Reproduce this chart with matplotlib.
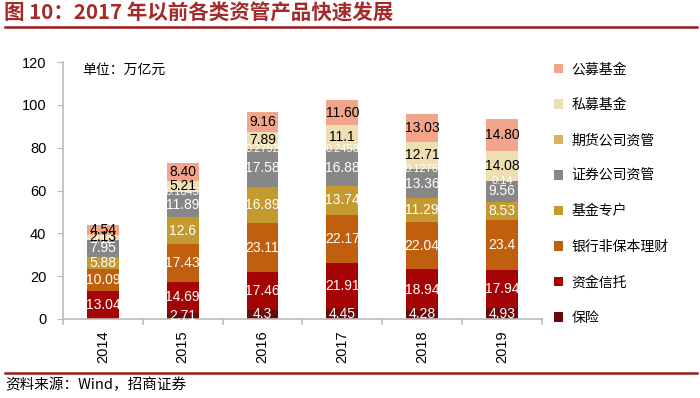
import matplotlib
matplotlib.use("Agg")
import matplotlib.pyplot as plt
from matplotlib.patches import Patch
from matplotlib.lines import Line2D
import numpy as np

plt.rcParams['font.family'] = ['Liberation Sans', 'Noto Sans CJK SC', 'DejaVu Sans']

years = ['2014', '2015', '2016', '2017', '2018', '2019']
# bottom to top
series_names = ['保险', '资金信托', '银行非保本理财', '基金专户', '证券公司资管', '期货公司资管', '私募基金', '公募基金']
baoxian   = [0.0, 2.71, 4.3, 4.45, 4.28, 4.93]
xintuo    = [13.04, 14.69, 17.46, 21.91, 18.94, 17.94]
licai     = [10.09, 17.43, 23.11, 22.17, 22.04, 23.4]
zhuanhu   = [5.88, 12.6, 16.89, 13.74, 11.29, 8.53]
quanshang = [7.95, 11.89, 17.58, 16.88, 13.36, 9.56]
qihuo     = [0.12, 0.1045, 0.2792, 0.2458, 0.1276, 0.14]
simu      = [2.13, 5.21, 7.89, 11.1, 12.71, 14.08]
gongmu    = [4.54, 8.40, 9.16, 11.60, 13.03, 14.80]

label_text = {
    '保险': ['', '2.71', '4.3', '4.45', '4.28', '4.93'],
    '资金信托': ['13.04', '14.69', '17.46', '21.91', '18.94', '17.94'],
    '银行非保本理财': ['10.09', '17.43', '23.11', '22.17', '22.04', '23.4'],
    '基金专户': ['5.88', '12.6', '16.89', '13.74', '11.29', '8.53'],
    '证券公司资管': ['7.95', '11.89', '17.58', '16.88', '13.36', '9.56'],
    '期货公司资管': ['0.12', '0.1045', '0.2792', '0.2458', '0.1276', '0.14'],
    '私募基金': ['2.13', '5.21', '7.89', '11.1', '12.71', '14.08'],
    '公募基金': ['4.54', '8.40', '9.16', '11.60', '13.03', '14.80'],
}

data = [baoxian, xintuo, licai, zhuanhu, quanshang, qihuo, simu, gongmu]
colors = ['#6A0A0A', '#A50404', '#C0600E', '#C49A30', '#878787', '#D8B460', '#EEDFB2', '#F2A58A']
txt_colors = ['white', 'white', 'white', 'white', 'white', 'white', 'black', 'black']

fig = plt.figure(figsize=(7.0, 3.98), dpi=100)
ax = fig.add_axes([0.09, 0.1985, 0.684, 0.6455])

x = np.arange(len(years))
bottom = np.zeros(len(years))
for name, vals, c, tc in zip(series_names, data, colors, txt_colors):
    vals = np.array(vals)
    ax.bar(x, vals, bottom=bottom, width=0.4, color=c, edgecolor='none', zorder=2)
    for i in range(len(years)):
        t = label_text[name][i]
        if not t:
            continue
        y = bottom[i] + vals[i] / 2
        fs = 10
        if name == '期货公司资管':
            fs = 8
        ax.text(x[i], y, t, ha='center', va='center', color=tc, fontsize=fs, zorder=3)
    bottom += vals

ax.set_xlim(-0.5, len(years) - 0.5)
ax.set_ylim(0, 120)
ax.set_yticks(np.arange(0, 121, 20))
ax.set_xticks(x)
ax.set_xticklabels(years, rotation=90, fontsize=10.5)
ax.tick_params(axis='y', labelsize=10.5, length=4, color='#BBBBBB', pad=8)
ax.tick_params(axis='x', length=0, pad=8)
for s in ['top', 'right']:
    ax.spines[s].set_visible(False)
ax.spines['left'].set_color('#BBBBBB')
ax.spines['bottom'].set_color('#BBBBBB')
ax.spines['left'].set_linewidth(1.2)
ax.spines['bottom'].set_linewidth(1.2)
# category separators on x axis
for b in np.arange(-0.5, len(years) + 0.5, 1):
    ax.plot([b, b], [0, -2.5], color='#BBBBBB', lw=1.2, clip_on=False, zorder=1)

ax.text(0.04, 0.97, '单位：万亿元', transform=ax.transAxes, fontsize=10,
        family=['Noto Sans CJK SC'], va='center', ha='left')

handles = [Patch(facecolor=c, edgecolor='none') for c in colors][::-1]
fig.legend(handles, series_names[::-1], loc='upper left', bbox_to_anchor=(0.773, 0.875),
           frameon=False, handlelength=0.7, handleheight=0.7,
           labelspacing=1.55, handletextpad=0.6, prop={'family': ['Noto Sans CJK SC'], 'size': 10})

# title
fig.text(0.006, 0.966, '图 10：2017 年以前各类资管产品快速发展', fontsize=14.8, fontweight='bold',
         color='#A52A2A', ha='left', va='center', family=['Noto Sans CJK SC'])
fig.add_artist(Line2D([0.007, 0.995], [1 - 27/398, 1 - 27/398], color='#9B1B1B', lw=1.8))
fig.add_artist(Line2D([0.007, 0.995], [1 - 373/398, 1 - 373/398], color='#9B1B1B', lw=1.8))
fig.text(0.008, 1 - 385/398, '资料来源：Wind，招商证券', fontsize=10.5, ha='left', va='center',
         family=['Noto Sans CJK SC'])

fig.savefig('out.png', dpi=100)
